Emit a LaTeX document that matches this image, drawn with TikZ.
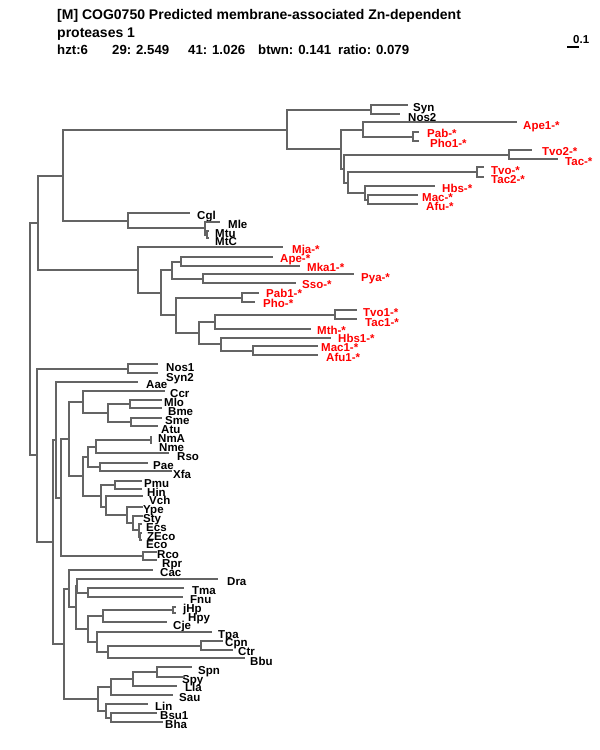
\documentclass[tikz,border=0pt]{standalone}
\usepackage{fontspec}
\setmainfont{Liberation Sans}
\definecolor{brc}{RGB}{100,100,100}
\tikzset{
  br/.style={draw=brc,line width=1.8pt},
  lbl/.style={anchor=base west,inner sep=0pt,font=\bfseries\fontsize{11.5}{12}\selectfont,yshift=-4pt},
  ttl/.style={anchor=base west,inner sep=0pt,font=\bfseries\fontsize{14}{15}\selectfont},
  ttlb/.style={anchor=base west,inner sep=0pt,font=\bfseries\fontsize{13.2}{15}\selectfont}
}
\newcommand\lf[7]{\coordinate (#1) at (#2,#3); \node[lbl,text=#7] (l#1) at (#4,#5) {#6};}
\begin{document}
\begin{tikzpicture}[x=1pt,y=-1pt]
\useasboundingbox[fill=white] (0,0) rectangle (600,750);
% title
\node[ttl] (t1) at (57,19) {[M] COG0750 Predicted membrane-associated Zn-dependent};
\node[ttl] (t2) at (57,37) {proteases 1};
\node[ttlb] (t3a) at (57,54) {hzt:6};
\node[ttlb] (t3b) at (112,54) {29: 2.549};
\node[ttlb] (t3c) at (188,54) {41: 1.026};
\node[ttlb] (t3d) at (258,54) {btwn: 0.141};
\node[ttlb] (t3e) at (338,54) {ratio: 0.079};
% scale bar
\node[lbl] (sbt) at (573,39) {0.1};
\coordinate (sb1) at (567,47); \coordinate (sb2) at (579,47);
\draw[line width=1.2pt] (sb1) -- (sb2);
% internal nodes
\coordinate (r) at (30,339);
\coordinate (n1) at (38,223);
\coordinate (n2) at (63,176);
\coordinate (n3) at (287,130);
\coordinate (n4) at (371,110);
\coordinate (n5) at (341,149);
\coordinate (n6) at (363,130);
\coordinate (n7) at (413,137);
\coordinate (n8) at (344,169);
\coordinate (n9) at (509,155);
\coordinate (n10) at (348,183);
\coordinate (n11) at (477,172);
\coordinate (n12) at (365,193);
\coordinate (n13) at (368,200);
\coordinate (n14) at (128,221);
\coordinate (n15) at (205,228);
\coordinate (n16) at (207,235);
\coordinate (n17) at (138,270);
\coordinate (n18) at (161,293);
\coordinate (n19) at (172,270);
\coordinate (n20) at (181,262);
\coordinate (n22) at (203,279);
\coordinate (n21) at (176,315);
\coordinate (n23) at (242,298);
\coordinate (n24) at (199,333);
\coordinate (n25) at (215,322);
\coordinate (n26) at (335,315);
\coordinate (n27) at (221,344);
\coordinate (n28) at (253,351);
\coordinate (m1) at (37,455);
\coordinate (m2) at (128,369);
\coordinate (m3) at (53,542);
\coordinate (m4) at (56,440);
\coordinate (m5) at (61,498);
\coordinate (m6) at (69,439);
\coordinate (m7) at (83,402);
\coordinate (m8) at (108,413);
\coordinate (m9) at (130,404);
\coordinate (m9b) at (131,422);
\coordinate (m10) at (83,476);
\coordinate (m11) at (88,457);
\coordinate (m12) at (96,447);
\coordinate (m12b) at (151,440);
\coordinate (m13) at (100,467);
\coordinate (m14) at (101,496);
\coordinate (m15) at (115,485);
\coordinate (m16) at (106,507);
\coordinate (m17) at (127,515);
\coordinate (m18) at (133,523);
\coordinate (m18b) at (139,530);
\coordinate (m18c) at (140,537);
\coordinate (m19) at (143,556);
\coordinate (m20) at (64,644);
\coordinate (m21) at (69,589);
\coordinate (m22) at (76,607);
\coordinate (m23) at (77,586);
\coordinate (m24) at (88,593);
\coordinate (m25) at (88,629);
\coordinate (m26) at (103,616);
\coordinate (m27) at (173,610);
\coordinate (m28) at (97,642);
\coordinate (m29) at (108,652);
\coordinate (m29b) at (201,646);
\coordinate (m30) at (98,699);
\coordinate (m31) at (111,687);
\coordinate (m32) at (133,679);
\coordinate (m33) at (157,672);
\coordinate (m34) at (106,711);
\coordinate (m35) at (111,718);
% leaves
\lf{Syn}{408}{105}{413}{107}{Syn}{black}
\lf{Nos2}{400}{114}{408}{117}{Nos2}{black}
\lf{Ape1}{517}{122}{523}{125}{Ape1-*}{red}
\lf{Pab}{419}{132}{427}{133}{Pab-*}{red}
\lf{Pho1}{419}{141}{430}{143}{Pho1-*}{red}
\lf{Tvo2}{532}{150}{542}{151}{Tvo2-*}{red}
\lf{Tac}{558}{159}{565}{161}{Tac-*}{red}
\lf{Tvo}{484}{167}{491}{170}{Tvo-*}{red}
\lf{Tac2}{484}{177}{491}{179}{Tac2-*}{red}
\lf{Hbs}{435}{186}{442}{188}{Hbs-*}{red}
\lf{Mac}{418}{195}{422}{197}{Mac-*}{red}
\lf{Afu}{418}{204}{426}{206}{Afu-*}{red}
\lf{Cgl}{190}{213}{197}{215}{Cgl}{black}
\lf{Mle}{220}{222}{228}{224}{Mle}{black}
\lf{Mtu}{209}{231}{215}{233}{Mtu}{black}
\lf{MtC}{209}{238}{215}{241}{MtC}{black}
\lf{Mja}{283}{247}{292}{249}{Mja-*}{red}
\lf{Ape}{273}{257}{280}{258}{Ape-*}{red}
\lf{Mka1}{300}{266}{307}{267}{Mka1-*}{red}
\lf{Pya}{354}{274}{361}{277}{Pya-*}{red}
\lf{Sso}{296}{283}{302}{284}{Sso-*}{red}
\lf{Pab1}{259}{293}{266}{293}{Pab1-*}{red}
\lf{Pho}{255}{302}{263}{303}{Pho-*}{red}
\lf{Tvo1}{357}{310}{363}{312}{Tvo1-*}{red}
\lf{Tac1}{357}{319}{365}{322}{Tac1-*}{red}
\lf{Mth}{311}{329}{317}{330}{Mth-*}{red}
\lf{Hbs1}{331}{338}{338}{338}{Hbs1-*}{red}
\lf{Mac1}{318}{346}{321}{347}{Mac1-*}{red}
\lf{Afu1}{318}{355}{326}{357}{Afu1-*}{red}
\lf{Nos1}{158}{364}{166}{367}{Nos1}{black}
\lf{Syn2}{158}{373}{166}{377}{Syn2}{black}
\lf{Aae}{138}{382}{146}{384}{Aae}{black}
\lf{Ccr}{165}{391}{170}{393}{Ccr}{black}
\lf{Mlo}{162}{400}{164}{402}{Mlo}{black}
\lf{Bme}{162}{408}{168}{411}{Bme}{black}
\lf{Sme}{162}{418}{165}{420}{Sme}{black}
\lf{Atu}{158}{426}{161}{429}{Atu}{black}
\lf{NmA}{152}{437}{158}{438}{NmA}{black}
\lf{Nme}{152}{443}{159}{447}{Nme}{black}
\lf{Rso}{169}{453}{177}{456}{Rso}{black}
\lf{Pae}{148}{463}{153}{465}{Pae}{black}
\lf{Xfa}{172}{471}{173}{474}{Xfa}{black}
\lf{Pmu}{142}{481}{144}{483}{Pmu}{black}
\lf{Hin}{142}{489}{147}{492}{Hin}{black}
\lf{Vch}{143}{496}{149}{500}{Vch}{black}
\lf{Ype}{143}{507}{143}{509}{Ype}{black}
\lf{Sty}{143}{516}{143}{518}{Sty}{black}
\lf{Ecs}{142}{524}{146}{527}{Ecs}{black}
\lf{ZEco}{142}{533}{147}{536}{ZEco}{black}
\lf{Eco}{142}{540}{146}{544}{Eco}{black}
\lf{Rco}{157}{552}{157}{554}{Rco}{black}
\lf{Rpr}{157}{560}{162}{563}{Rpr}{black}
\lf{Cac}{153}{570}{160}{572}{Cac}{black}
\lf{Dra}{218}{579}{227}{581}{Dra}{black}
\lf{Tma}{184}{588}{192}{590}{Tma}{black}
\lf{Fnu}{183}{597}{190}{599}{Fnu}{black}
\lf{jHp}{176}{607}{183}{608}{jHp}{black}
\lf{Hpy}{176}{613}{188}{617}{Hpy}{black}
\lf{Cje}{167}{622}{173}{625}{Cje}{black}
\lf{Tpa}{212}{632}{218}{634}{Tpa}{black}
\lf{Cpn}{223}{641}{225}{642}{Cpn}{black}
\lf{Ctr}{233}{650}{238}{651}{Ctr}{black}
\lf{Bbu}{245}{658}{250}{661}{Bbu}{black}
\lf{Spn}{192}{667}{198}{670}{Spn}{black}
\lf{Spy}{185}{677}{182}{679}{Spy}{black}
\lf{Lla}{177}{686}{185}{687}{Lla}{black}
\lf{Sau}{173}{695}{179}{697}{Sau}{black}
\lf{Lin}{148}{704}{155}{706}{Lin}{black}
\lf{Bsu1}{157}{713}{160}{715}{Bsu1}{black}
\lf{Bha}{163}{722}{165}{724}{Bha}{black}
% branches
\foreach \p/\c in {r/n1,r/m1,n1/n2,n1/n17,n2/n3,n2/n14,n3/n4,n3/n5,n4/Syn,n4/Nos2,
  n5/n6,n5/n8,n6/Ape1,n6/n7,n7/Pab,n7/Pho1,n8/n9,n8/n10,n9/Tvo2,n9/Tac,
  n10/n11,n10/n12,n11/Tvo,n11/Tac2,n12/Hbs,n12/n13,n13/Mac,n13/Afu,
  n14/Cgl,n14/n15,n15/Mle,n15/n16,n16/Mtu,n16/MtC,
  n17/Mja,n17/n18,n18/n19,n18/n21,n19/n20,n19/n22,n20/Ape,n20/Mka1,n22/Pya,n22/Sso,
  n21/n23,n21/n24,n23/Pab1,n23/Pho,n24/n25,n24/n27,n25/n26,n25/Mth,n26/Tvo1,n26/Tac1,
  n27/Hbs1,n27/n28,n28/Mac1,n28/Afu1,
  m1/m2,m1/m3,m2/Nos1,m2/Syn2,m3/m4,m3/m20,m4/Aae,m4/m5,m5/m6,m5/m19,
  m6/m7,m6/m10,m7/Ccr,m7/m8,m8/m9,m8/m9b,m9/Mlo,m9/Bme,m9b/Sme,m9b/Atu,
  m10/m11,m10/m14,m11/m12,m11/m13,m12/m12b,m12/Rso,m12b/NmA,m12b/Nme,m13/Pae,m13/Xfa,
  m14/m15,m14/m16,m15/Pmu,m15/Hin,m16/Vch,m16/m17,m17/Ype,m17/m18,m18/Sty,m18/m18b,
  m18b/Ecs,m18b/m18c,m18c/ZEco,m18c/Eco,m19/Rco,m19/Rpr,
  m20/m21,m20/m30,m21/Cac,m21/m22,m22/m23,m22/m25,m23/Dra,m23/m24,m24/Tma,m24/Fnu,
  m25/m26,m25/m28,m26/m27,m26/Cje,m27/jHp,m27/Hpy,m28/Tpa,m28/m29,m29/m29b,m29/Bbu,
  m29b/Cpn,m29b/Ctr,m30/m31,m30/m34,m31/m32,m31/Sau,m32/m33,m32/Lla,m33/Spn,m33/Spy,
  m34/Lin,m34/m35,m35/Bsu1,m35/Bha}
  \draw[br] (\p) |- (\c);
\end{tikzpicture}
\end{document}
